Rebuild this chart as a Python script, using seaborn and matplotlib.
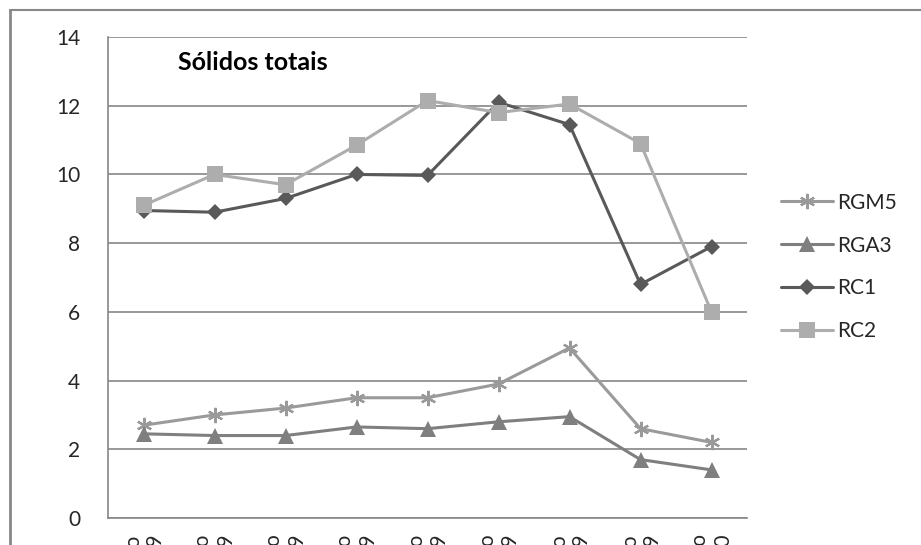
import matplotlib
matplotlib.use("Agg")
import matplotlib.pyplot as plt
from matplotlib.lines import Line2D
import seaborn as sns
import pandas as pd

# Sampling months (x categories)
months = ["Maio\n2009", "Junho\n2009", "Julho\n2009", "Agosto\n2009",
          "Setembro\n2009", "Outubro\n2009", "Novembro\n2009",
          "Dezembro\n2009", "Janeiro\n2010"]

# Total solids per reactor
rgm5 = [2.7, 3.0, 3.2, 3.5, 3.5, 3.9, 4.95, 2.6, 2.2]
rga3 = [2.45, 2.4, 2.4, 2.65, 2.6, 2.8, 2.95, 1.7, 1.4]
rc1 = [8.95, 8.9, 9.3, 10.0, 9.97, 12.1, 11.45, 6.8, 7.9]
rc2 = [9.1, 10.0, 9.7, 10.85, 12.15, 11.8, 12.05, 10.9, 6.0]

series_names = ["RGM5", "RGA3", "RC1", "RC2"]
series_values = [rgm5, rga3, rc1, rc2]

frames = []
for name, vals in zip(series_names, series_values):
    frames.append(pd.DataFrame({"pos": range(len(months)), "valor": vals, "serie": name}))
df = pd.concat(frames, ignore_index=True)

sns.set_theme(style="white")
plt.rcParams["font.family"] = ["Lato", "DejaVu Sans"]

styles = {
    "RGM5": dict(color="#9a9a9a", marker=(6, 2, 0), ms=11, mew=1.6, mfc="#9a9a9a", mec="#9a9a9a"),
    "RGA3": dict(color="#7f7f7f", marker="^", ms=11, mew=0, mfc="#7f7f7f", mec="#7f7f7f"),
    "RC1": dict(color="#595959", marker="D", ms=8, mew=0, mfc="#595959", mec="#595959"),
    "RC2": dict(color="#adadad", marker="s", ms=11, mew=0, mfc="#adadad", mec="#adadad"),
}

fig = plt.figure(figsize=(9.21, 5.45), dpi=100)
ax = fig.add_axes([108 / 921, 1 - 518 / 545, (747 - 108) / 921, (518 - 37) / 545])

for name in series_names:
    st = styles[name]
    sub = df[df["serie"] == name]
    sns.lineplot(data=sub, x="pos", y="valor", ax=ax, color=st["color"], lw=2.2,
                 marker=st["marker"], markersize=st["ms"], markeredgewidth=st["mew"],
                 markerfacecolor=st["mfc"], markeredgecolor=st["mec"],
                 label=name, legend=False, sort=False)

ax.set_xlim(-0.5, len(months) - 0.5)
ax.set_ylim(0, 14)
ax.set_yticks(range(0, 15, 2))
ax.set_xticks(range(len(months)))
ax.set_xticklabels(months, rotation=90, fontsize=15, va="top", ha="center", ma="right")
ax.tick_params(axis="x", length=0, pad=11)
ax.tick_params(axis="y", length=0, pad=20, labelsize=15)
ax.set_xlabel("")
ax.set_ylabel("")
ax.grid(axis="y", color="#868686", lw=1.2)
ax.set_axisbelow(True)
for side in ["top", "right"]:
    ax.spines[side].set_visible(False)
for side in ["left", "bottom"]:
    ax.spines[side].set_color("#868686")
    ax.spines[side].set_linewidth(1.2)

fig.text(178 / 921, 1 - 62 / 545, "Sólidos totais", fontsize=18, fontweight="bold",
         ha="left", va="center", color="black")

handles = [Line2D([], [], color=styles[n]["color"], lw=2.2, marker=styles[n]["marker"],
                  markersize=styles[n]["ms"], markeredgewidth=styles[n]["mew"],
                  markerfacecolor=styles[n]["mfc"], markeredgecolor=styles[n]["mec"])
           for n in series_names]
fig.legend(handles, series_names, loc="center left", bbox_to_anchor=(781 / 921, 1 - 267 / 545),
           frameon=False, fontsize=15, handlelength=2.5, handletextpad=0.2,
           labelspacing=1.1, borderpad=0, borderaxespad=0)

# Chart-area frame (left and top edges)
fig.add_artist(Line2D([10 / 921, 10 / 921], [0, 1 - 10 / 545], transform=fig.transFigure,
                      color="#888888", lw=2))
fig.add_artist(Line2D([10 / 921, 1], [1 - 10 / 545, 1 - 10 / 545], transform=fig.transFigure,
                      color="#888888", lw=1.5))

fig.savefig("out.png", dpi=100)
